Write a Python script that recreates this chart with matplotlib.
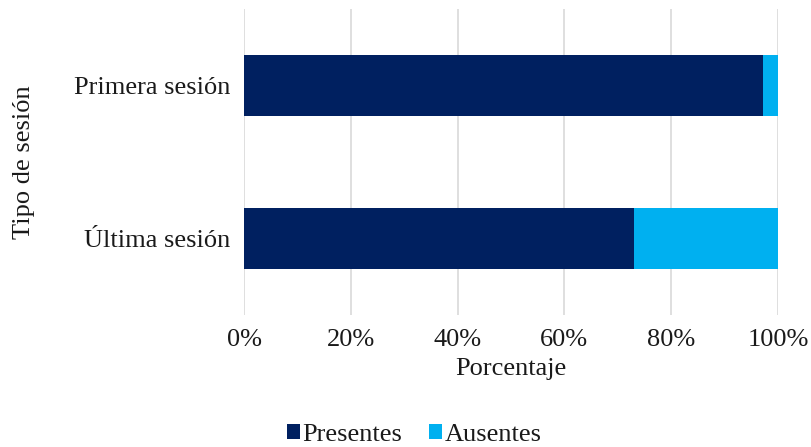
import matplotlib.pyplot as plt
from matplotlib.ticker import PercentFormatter

plt.rcParams['font.family'] = ['Liberation Serif', 'DejaVu Serif']

sesiones = ['Primera sesión', 'Última sesión']
presentes = [97.2, 73.0]
ausentes = [2.8, 27.0]

fig = plt.figure(figsize=(8.12, 4.47), dpi=100)
ax = fig.add_axes([0.3005, 0.295, 0.6575, 0.685])

ax.barh(sesiones, presentes, height=0.4, color='#002060', label='Presentes', zorder=3)
ax.barh(sesiones, ausentes, left=presentes, height=0.4, color='#00B0F0', label='Ausentes', zorder=3)

ax.set_xlim(0, 100)
ax.set_ylim(1.5, -0.5)
ax.set_xticks([0, 20, 40, 60, 80, 100])
ax.xaxis.set_major_formatter(PercentFormatter(decimals=0))
ax.grid(axis='x', color='#d9d9d9', linewidth=1.2, zorder=0)
for s in ax.spines.values():
    s.set_visible(False)
ax.tick_params(length=0, labelsize=19, colors='#1a1a1a')
ax.tick_params(axis='x', pad=10)
ax.tick_params(axis='y', pad=10)

ax.set_xlabel('Porcentaje', fontsize=19, color='#1a1a1a', labelpad=5)
ax.set_ylabel('Tipo de sesión', fontsize=19, color='#1a1a1a', labelpad=28)

fig.legend(loc='lower center', bbox_to_anchor=(0.51, -0.05), ncol=2, frameon=False,
           fontsize=19, handlelength=0.5, handleheight=0.5, handletextpad=0.1,
           columnspacing=1.0, labelcolor='#1a1a1a')

fig.savefig('out.png', dpi=100)
